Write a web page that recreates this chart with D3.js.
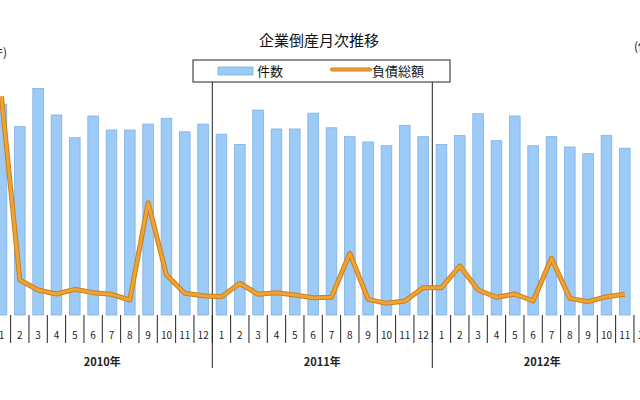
<!DOCTYPE html>
<html lang="ja">
<head>
    <meta charset="UTF-8">
    <title>企業倒産月次推移</title>
    <script src="https://d3js.org/d3.v7.min.js"></script>
    <style>
        body { margin: 0; background: #fff; }
        svg { display: block; font-family: "Noto Sans CJK JP", "DejaVu Sans", sans-serif; }
        .month-label { font-size: 10px; fill: #222; }
        .year-label { font-size: 11px; font-weight: bold; fill: #222; }
    </style>
</head>
<body>
<svg id="chart" width="640" height="400"></svg>
<script>
    // years and months shown on the axis
    const years = ["2010", "2011", "2012"];
    const months = ["1", "2", "3", "4", "5", "6", "7", "8", "9", "10", "11", "12"];

    // 件数 (monthly bankruptcies), Dec 2012 not yet published
    const counts = [
        1205, 1076, 1295, 1143, 1013, 1137, 1057, 1057, 1091, 1124, 1047, 1091,
        1033, 975, 1171, 1063, 1063, 1153, 1070, 1019, 989, 967, 1084, 1019,
        975, 1025, 1150, 996, 1137, 967, 1019, 960, 922, 1027, 953, null
    ];

    // 負債総額 (億円)
    const debts = [
        22300, 3570, 2550, 2140, 2620, 2280, 2110, 1530, 11460, 4080, 2210, 1970,
        1870, 3240, 2110, 2280, 2040, 1770, 1810, 6300, 1600, 1190, 1430, 2790,
        2790, 5000, 2550, 1810, 2140, 1430, 5790, 1700, 1360, 1870, 2110, null
    ];

    const svg = d3.select("#chart");

    const keys = years.flatMap(y => months.map(m => y + "-" + m));
    const rows = keys.map((k, i) => ({ key: k, month: k.split("-")[1], count: counts[i], debt: debts[i] }));

    const baseY = 315;
    // the original chart is wider than the picture, so the band runs past both edges
    const x = d3.scaleBand().domain(keys).range([-7.7, 652.3]).paddingInner(0.42).paddingOuter(0.21);
    const step = x.step();
    const x0 = -7.7;
    const yCount = d3.scaleLinear().domain([0, 1400]).range([baseY, 70]);
    const yDebt = d3.scaleLinear().domain([0, 25000]).range([baseY, 70]);

    // title and unit labels
    svg.append("text")
        .attr("x", 319).attr("y", 46)
        .attr("text-anchor", "middle")
        .style("font-size", "15px").style("fill", "#111")
        .text("企業倒産月次推移");
    svg.append("text")
        .attr("x", 7).attr("y", 57)
        .attr("text-anchor", "end")
        .style("font-size", "12px").style("fill", "#111")
        .text("(件)");
    svg.append("text")
        .attr("x", 634).attr("y", 51)
        .style("font-size", "12px").style("fill", "#111")
        .text("(億円)");

    // bars
    svg.append("g").selectAll("rect")
        .data(rows.filter(d => d.count != null))
        .enter().append("rect")
        .attr("x", d => x(d.key))
        .attr("width", x.bandwidth())
        .attr("y", d => yCount(d.count))
        .attr("height", d => baseY - yCount(d.count))
        .attr("fill", "#9ccbf8")
        .attr("stroke", "#7fb0e2")
        .attr("stroke-width", 0.8);

    // month ticks below the plot
    const tickXs = d3.range(keys.length + 1).map(i => x0 + i * step);
    svg.append("g").selectAll("line")
        .data(tickXs)
        .enter().append("line")
        .attr("x1", d => d).attr("x2", d => d)
        .attr("y1", baseY).attr("y2", 343)
        .attr("stroke", "#222").attr("stroke-width", 1);

    // year dividers
    const dividerXs = d3.range(years.length + 1).map(i => x0 + i * 12 * step);
    svg.append("g").selectAll("line")
        .data(dividerXs)
        .enter().append("line")
        .attr("x1", d => d).attr("x2", d => d)
        .attr("y1", 70).attr("y2", 368)
        .attr("stroke", "#222").attr("stroke-width", 1);

    // debt line
    const line = d3.line()
        .defined(d => d.debt != null)
        .x(d => x(d.key) + x.bandwidth() / 2)
        .y(d => yDebt(d.debt));
    svg.append("path")
        .datum(rows)
        .attr("fill", "none")
        .attr("stroke", "#c8801c")
        .attr("stroke-width", 5)
        .attr("stroke-linejoin", "round")
        .attr("d", line);
    svg.append("path")
        .datum(rows)
        .attr("fill", "none")
        .attr("stroke", "#f0a235")
        .attr("stroke-width", 3)
        .attr("stroke-linejoin", "round")
        .attr("d", line);

    // axis labels
    svg.append("g").selectAll("text")
        .data(rows)
        .enter().append("text")
        .attr("class", "month-label")
        .attr("x", d => x(d.key) + x.bandwidth() / 2)
        .attr("y", 339)
        .attr("text-anchor", "middle")
        .text(d => d.month);

    svg.append("g").selectAll("text")
        .data(years)
        .enter().append("text")
        .attr("class", "year-label")
        .attr("x", (d, i) => x0 + (i * 12 + 6) * step)
        .attr("y", 366)
        .attr("text-anchor", "middle")
        .text(d => d + "年");

    // legend
    const legend = svg.append("g");
    legend.append("rect")
        .attr("x", 193).attr("y", 60)
        .attr("width", 257).attr("height", 22)
        .attr("fill", "#fff").attr("stroke", "#222").attr("stroke-width", 1);
    legend.append("rect")
        .attr("x", 218).attr("y", 67)
        .attr("width", 35).attr("height", 8)
        .attr("fill", "#9ccbf8").attr("stroke", "#7fb0e2").attr("stroke-width", 0.8);
    legend.append("text")
        .attr("x", 257).attr("y", 76)
        .style("font-size", "13px").style("fill", "#111")
        .text("件数");
    legend.append("line")
        .attr("x1", 332).attr("x2", 370).attr("y1", 69.5).attr("y2", 69.5)
        .attr("stroke", "#c8801c").attr("stroke-width", 4).attr("stroke-linecap", "round");
    legend.append("line")
        .attr("x1", 332).attr("x2", 370).attr("y1", 69.5).attr("y2", 69.5)
        .attr("stroke", "#f0a235").attr("stroke-width", 2.2).attr("stroke-linecap", "round");
    legend.append("text")
        .attr("x", 372).attr("y", 76)
        .style("font-size", "13px").style("fill", "#111")
        .text("負債総額");
</script>
</body>
</html>
